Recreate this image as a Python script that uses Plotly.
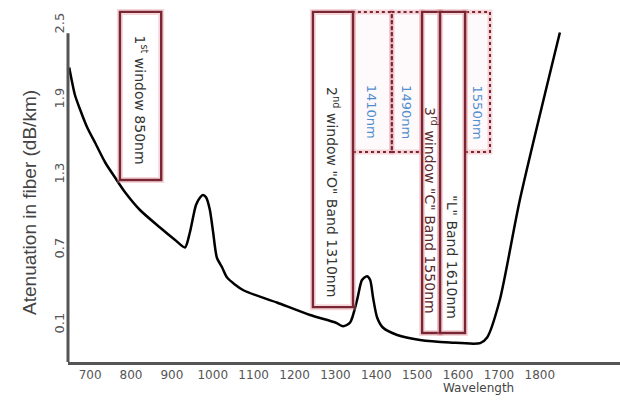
import plotly.graph_objects as go

# Fibre attenuation spectrum (nm, dB/km)
wavelength_nm = [649, 663, 676, 693, 712, 737, 761, 786, 822, 871, 908, 932, 944, 959, 969, 976,
                 984, 993, 1001, 1010, 1023, 1035, 1074, 1157, 1238, 1300, 1319, 1336, 1353, 1365,
                 1377, 1385, 1392, 1402, 1416, 1451, 1507, 1580, 1654, 1671, 1702, 1751, 1849]
attenuation_db_km = [2.16, 1.94, 1.82, 1.68, 1.56, 1.40, 1.28, 1.16, 1.02, 0.88, 0.78, 0.72, 0.84,
                     1.06, 1.12, 1.14, 1.12, 1.02, 0.84, 0.64, 0.56, 0.48, 0.38, 0.28, 0.18, 0.12,
                     0.09, 0.12, 0.30, 0.46, 0.49, 0.46, 0.32, 0.16, 0.08, 0.02, -0.02, -0.04,
                     -0.045, 0.00, 0.30, 1.10, 2.44]

x_ticks = [700, 800, 900, 1000, 1100, 1200, 1300, 1400, 1500, 1600, 1700, 1800]
y_ticks = [0.1, 0.7, 1.3, 1.9, 2.5]

# Transmission windows / bands (label, start nm, end nm)
window_labels = ["1<sup>st</sup> window 850nm",
                 "2<sup>nd</sup> window \"O\" Band 1310nm",
                 "3<sup>rd</sup> window \"C\" Band 1550nm",
                 "\"L\" Band 1610nm"]
window_start = [773, 1245, 1512, 1556]
window_end = [874, 1343, 1556, 1617]

# Individual channel cells (label, start nm, end nm)
channel_labels = ["1410nm", "1490nm", "1550nm"]
channel_start = [1343, 1438, 1617]
channel_end = [1438, 1512, 1678]

MAROON = "#7a2532"
HALO = "rgba(226,140,152,0.35)"
BLUE = "#4f8fcf"
FONT = "DejaVu Sans"

fig = go.Figure()
fig.add_trace(go.Scatter(
    x=wavelength_nm, y=attenuation_db_km, mode="lines",
    line=dict(color="black", width=2.5, shape="spline", smoothing=0.7),
    hoverinfo="skip", showlegend=False,
))

shapes = []
annotations = []

# vertical extents (paper coords) of the window boxes and their label centres
box_bottoms = [0.514, 0.155, 0.082, 0.082]
label_y = [0.74, 0.48, 0.429, 0.297]
box_top = 0.989

# dotted channel cells along the top
for lab, x0, x1 in zip(channel_labels, channel_start, channel_end):
    shapes.append(dict(type="rect", xref="x", yref="paper", x0=x0, x1=x1, y0=0.593, y1=box_top,
                       line=dict(color=HALO, width=5), fillcolor="rgba(252,238,240,0.35)",
                       layer="below"))
    shapes.append(dict(type="rect", xref="x", yref="paper", x0=x0, x1=x1, y0=0.593, y1=box_top,
                       line=dict(color=MAROON, width=2, dash="dot"), fillcolor="rgba(0,0,0,0)",
                       layer="above"))
    annotations.append(dict(x=(x0 + x1) / 2, y=0.706, xref="x", yref="paper", text=lab,
                            textangle=90, showarrow=False, xanchor="center", yanchor="middle",
                            font=dict(family=FONT, size=13, color=BLUE)))

# solid window boxes
for i, (lab, x0, x1) in enumerate(zip(window_labels, window_start, window_end)):
    shapes.append(dict(type="rect", xref="x", yref="paper", x0=x0, x1=x1,
                       y0=box_bottoms[i], y1=box_top,
                       line=dict(color=HALO, width=6), fillcolor="rgba(255,255,255,0.9)",
                       layer="above"))
    shapes.append(dict(type="rect", xref="x", yref="paper", x0=x0, x1=x1,
                       y0=box_bottoms[i], y1=box_top,
                       line=dict(color=MAROON, width=2.4), fillcolor="rgba(0,0,0,0)",
                       layer="above"))
    annotations.append(dict(x=(x0 + x1) / 2, y=label_y[i], xref="x", yref="paper", text=lab,
                            textangle=90, showarrow=False, xanchor="center", yanchor="middle",
                            font=dict(family=FONT, size=14,
                                      color="#5a2a30" if i == 2 else "#333333")))

# y axis line (stops short of the top of the plotting area)
shapes.append(dict(type="line", xref="paper", yref="paper", x0=0, x1=0, y0=0, y1=0.929,
                   line=dict(color="#555555", width=3)))

annotations.append(dict(x=-0.069, y=0.452, xref="paper", yref="paper",
                        text="Atenuation in fiber (dB/km)", textangle=-90, showarrow=False,
                        xanchor="center", yanchor="middle",
                        font=dict(family="Liberation Sans", size=19, color="#444444")))
annotations.append(dict(x=1649, y=-0.073, xref="x", yref="paper", text="Wavelength",
                        showarrow=False, xanchor="center", yanchor="middle",
                        font=dict(family=FONT, size=12, color="#444444")))

fig.update_layout(
    width=620, height=403,
    margin=dict(l=68, r=0, t=8, b=41),
    paper_bgcolor="white", plot_bgcolor="white",
    shapes=shapes, annotations=annotations,
    xaxis=dict(range=[646, 1996], tickvals=x_ticks, ticktext=[str(v) for v in x_ticks],
               showgrid=False, zeroline=False, showline=True, linecolor="#555555",
               linewidth=3, ticks="", tickfont=dict(family=FONT, size=12, color="#555555")),
    yaxis=dict(range=[-0.196, 2.636], tickvals=y_ticks, ticktext=[str(v) for v in y_ticks],
               showgrid=False, zeroline=False, showline=False, ticks="", tickangle=-90,
               tickfont=dict(family=FONT, size=13, color="#555555")),
)

fig.write_html("out.html")
